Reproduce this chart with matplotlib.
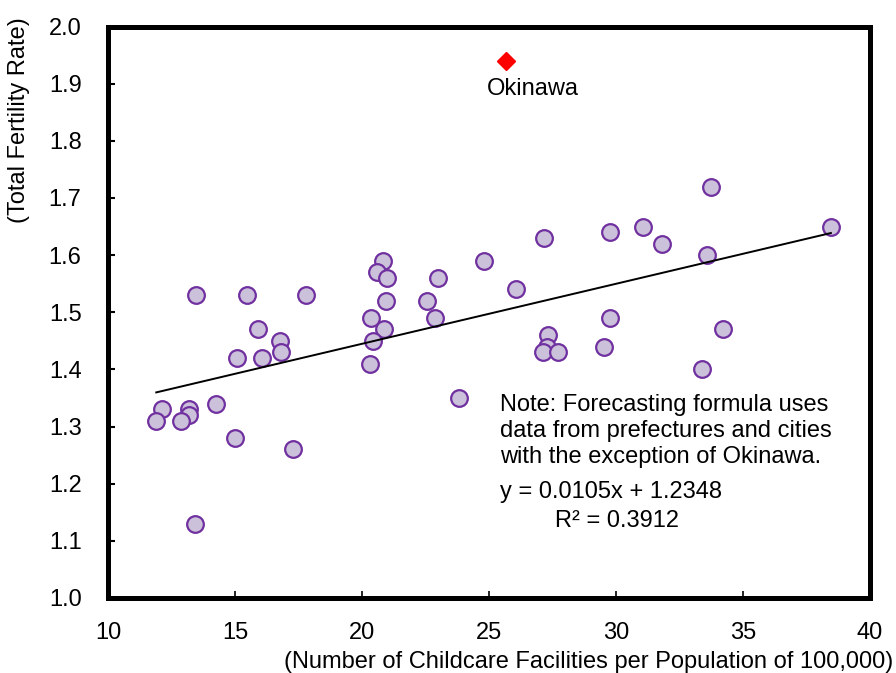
import matplotlib
matplotlib.use("Agg")
import matplotlib.pyplot as plt
import numpy as np

plt.rcParams['font.family'] = ['Liberation Sans', 'DejaVu Sans']

# Prefectures/cities (excluding Okinawa)
facilities = [13.45, 15.46, 17.81, 15.91, 16.77, 16.81, 15.07, 16.08, 14.25, 12.13,
              13.19, 13.20, 11.90, 12.87, 14.99, 17.27, 13.41,
              20.81, 20.58, 21.00, 20.96, 20.37, 20.87, 20.44, 20.31, 22.99, 22.56,
              22.86, 23.82,
              33.75, 38.46, 31.08, 29.78, 27.15, 31.82, 33.58, 24.80, 26.08, 29.76,
              34.22, 27.34, 27.28, 27.14, 27.70, 29.52, 33.40]
fertility = [1.53, 1.53, 1.53, 1.47, 1.45, 1.43, 1.42, 1.42, 1.34, 1.33,
             1.33, 1.32, 1.31, 1.31, 1.28, 1.26, 1.13,
             1.59, 1.57, 1.56, 1.52, 1.49, 1.47, 1.45, 1.41, 1.56, 1.52,
             1.49, 1.35,
             1.72, 1.65, 1.65, 1.64, 1.63, 1.62, 1.60, 1.59, 1.54, 1.49,
             1.47, 1.46, 1.44, 1.43, 1.43, 1.44, 1.40]

okinawa_x = [25.66]
okinawa_y = [1.94]

slope = 0.0105
intercept = 1.2348
trend_x = [11.9, 38.46]

xticks = [10, 15, 20, 25, 30, 35, 40]
yticks = [1.0, 1.1, 1.2, 1.3, 1.4, 1.5, 1.6, 1.7, 1.8, 1.9, 2.0]

FS = 17

W, H = 896, 673
fig = plt.figure(figsize=(W / 100, H / 100), dpi=100)
ax = fig.add_axes([108 / W, 1 - 598 / H, (870 - 108) / W, (598 - 26.5) / H])

ax.plot(facilities, fertility, linestyle='none', marker='o', markersize=12,
        markerfacecolor='#CCC1DA', markeredgecolor='#7030A0', markeredgewidth=1.6,
        zorder=3)
tx = np.array(trend_x)
ax.plot(tx, slope * tx + intercept, color='black', linewidth=1.4, zorder=4)
ax.plot(okinawa_x, okinawa_y, linestyle='none', marker='D', markersize=9,
        color='#FF0000', zorder=3)
ax.text(okinawa_x[0] + 1.08, okinawa_y[0] - 0.05, 'Okinawa', ha='center', va='center',
        fontsize=FS)

ax.set_xlim(10, 40)
ax.set_ylim(1.0, 2.0)
ax.set_xticks(xticks)
ax.set_yticks(yticks)
ax.set_xticklabels([str(v) for v in xticks])
ax.set_yticklabels([f'{v:.1f}' for v in yticks])
ax.tick_params(axis='y', direction='in', length=5, width=1.5, pad=19, labelsize=FS)
ax.tick_params(axis='x', direction='in', length=5, width=1.2, pad=17, labelsize=FS)
for s in ax.spines.values():
    s.set_linewidth(3.6)

def dx(px):
    return 10 + (px - 108) / 25.4

def dy(py):
    return 2.0 - (py - 26.5) / 571.5

note = ('Note: Forecasting formula uses\n'
        'data from prefectures and cities\n'
        'with the exception of Okinawa.')
ax.text(dx(500), dy(394), note, ha='left', va='top', fontsize=FS, linespacing=1.25)
ax.text(dx(500), dy(492), 'y = 0.0105x + 1.2348', ha='left', va='center', fontsize=FS)
ax.text(dx(555), dy(521), 'R² = 0.3912', ha='left', va='center', fontsize=FS)

fig.text(19 / W, 1 - 17 / H, '(Total Fertility Rate)', rotation=90, ha='center', va='top',
         fontsize=FS)
fig.text(893 / W, 1 - 662 / H, '(Number of Childcare Facilities per Population of 100,000)',
         ha='right', va='center', fontsize=FS)

fig.savefig('out.png', dpi=100)
